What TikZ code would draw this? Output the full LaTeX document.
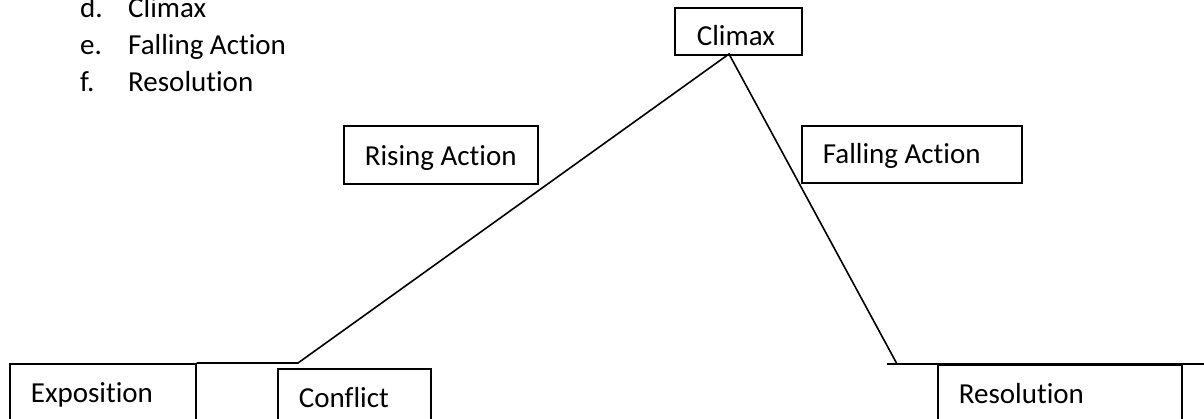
\documentclass[tikz,border=0pt]{standalone}
\usepackage{fontspec}
\setmainfont{Carlito}[RawFeature=-liga]
\begin{document}
\begin{tikzpicture}[x=1pt,y=-1pt,
  box/.style={draw,line width=1.7pt,anchor=north west,inner xsep=21pt,inner ysep=0pt,
    align=flush left,text depth=0pt,font=\fontsize{29}{35}\selectfont},
  item/.style={anchor=base west,inner sep=0pt,font=\fontsize{29}{35}\selectfont},
  ln/.style={line width=1.6pt}]
\clip (0,0) rectangle (1204,418);
\fill[white] (0,0) rectangle (1204,418);
% list
\node[item] (ld) at (80,17) {d.};
\node[item] (ldt) at (128,17) {Climax};
\node[item] (le) at (80,54) {e.};
\node[item] (let) at (128,54) {Falling Action};
\node[item] (lf) at (80,91) {f.};
\node[item] (lft) at (128,91) {Resolution};
% boxes
\node[box,minimum width=127pt,text width=83pt,minimum height=47pt,text height=29pt] (climax) at (674,7) {\mbox{Climax}};
\node[box,minimum width=194pt,text width=152pt,minimum height=58pt,text height=22pt] (rising) at (343,125) {\mbox{Rising Action}};
\node[box,minimum width=220pt,text width=178pt,minimum height=57pt,text height=19pt] (falling) at (801,125) {\mbox{Falling Action}};
\node[box,minimum width=186pt,text width=144pt,minimum height=60pt,text height=18pt] (expo) at (9,363) {\mbox{Exposition}};
\node[box,minimum width=153pt,text width=111pt,minimum height=60pt,text height=18pt] (conflict) at (277,368) {\mbox{Conflict}};
\node[box,minimum width=244pt,text width=202pt,minimum height=60pt,text height=18pt] (resol) at (937,364) {\mbox{Resolution}};
% connectors
\coordinate (apex) at (729,54);
\coordinate (c1) at (298,363);
\coordinate (c2) at (897,364);
\coordinate (r0) at (887,364);
\coordinate (r1) at (1210,364);
\draw[ln] (expo.north east) -- (c1) -- (apex) -- (c2);
\draw[ln] (r0) -- (r1);
\end{tikzpicture}
\end{document}
